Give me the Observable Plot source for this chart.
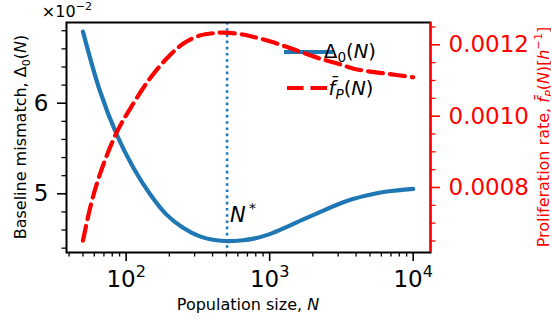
<!DOCTYPE html>
<html><head><meta charset="utf-8">
<script src="https://cdn.jsdelivr.net/npm/d3@7"></script>
<script src="https://cdn.jsdelivr.net/npm/@observablehq/plot@0.6"></script>
<style>
html,body{margin:0;padding:0;background:#fff;}
#chart{width:551px;height:322px;overflow:hidden;}
svg{font-family:"DejaVu Sans",sans-serif;}
</style></head><body><div id="chart"></div>
<script>
// Baseline mismatch Δ0(N), in units of 1e-2
const N_blue = [50, 65.5, 85.6, 112, 146, 191, 249, 326, 413, 505, 650, 774, 1000, 1321, 1700, 2256, 3000, 3846, 5000, 6570, 10000];
const delta0 = [6.79, 6.14, 5.66, 5.29, 5.00, 4.77, 4.625, 4.53, 4.49, 4.477, 4.487, 4.505, 4.555, 4.635, 4.715, 4.80, 4.885, 4.945, 4.99, 5.025, 5.055];
// Proliferation rate f̄P(N), h^-1
const N_red = [50, 57, 65.5, 85.6, 112, 146, 191, 249, 326, 413, 480, 650, 774, 1000, 1321, 1700, 2256, 3000, 3846, 5000, 6570, 10000];
const fP = [0.000651, 0.000754, 0.000836, 0.000953, 0.001035, 0.001105, 0.001161, 0.001203, 0.001226, 0.001233, 0.001234, 0.001229, 0.001222, 0.001210, 0.001194, 0.001178, 0.001161, 0.001147, 0.001133, 0.001125, 0.001119, 0.001109];
const Nstar = 505;
const annotations = [{N: Nstar, v: 4.76, label: "N*"}];

const xDomain = [38.4, 13200];
const yLeftDomain = [4.352, 6.891];
const yRightDomain = [0.0006177, 0.0012626];
const xMajor = [100, 1000, 10000];
const xMinor = [40,50,60,70,80,90,200,300,400,500,600,700,800,900,2000,3000,4000,5000,6000,7000,8000,9000];
const leftMajor = [5, 6];
const leftMinor = [4.4,4.6,4.8,5.2,5.4,5.6,5.8,6.2,6.4,6.6,6.8];
const rightMajor = [0.0008, 0.0010, 0.0012];
const rightMinor = [0.00065,0.0007,0.00075,0.00085,0.0009,0.00095,0.00105,0.0011,0.00115,0.00125];

const BLUE = "#1f77b4", RED = "#ff0000";
const toLeft = r => yLeftDomain[0] + (r - yRightDomain[0]) / (yRightDomain[1] - yRightDomain[0]) * (yLeftDomain[1] - yLeftDomain[0]);
const fromLeft = v => yRightDomain[0] + (v - yLeftDomain[0]) / (yLeftDomain[1] - yLeftDomain[0]) * (yRightDomain[1] - yRightDomain[0]);

const blueData = N_blue.map((n, i) => ({N: n, v: delta0[i]}));
const redData = N_red.map((n, i) => ({N: n, v: toLeft(fP[i])}));

const W = 551, H = 322, mL = 66, mR = 121, mT = 22, mB = 70;
const TICK = 23;
const RED_DASH = "15,7";

const plot = Plot.plot({
  width: W, height: H, marginLeft: mL, marginRight: mR, marginTop: mT, marginBottom: mB,
  style: {fontFamily: "DejaVu Sans", background: "white", color: "black"},
  x: {type: "log", domain: xDomain},
  y: {domain: yLeftDomain},
  marks: [
    Plot.ruleX([Nstar], {stroke: BLUE, strokeWidth: 2.6, strokeDasharray: "2.6,3.6"}),
    Plot.line(blueData, {x: "N", y: "v", stroke: BLUE, strokeWidth: 4.2, curve: "catmull-rom"}),
    Plot.text(annotations, {x: "N", y: "v", text: "label", textAnchor: "start", dx: 3, fontSize: 21, fill: "black"}),
    Plot.line(redData, {x: "N", y: "v", stroke: RED, strokeWidth: 4.2, strokeDasharray: RED_DASH, curve: "catmull-rom"}),
    Plot.frame({stroke: "black", strokeWidth: 2}),
    Plot.ruleX([xDomain[1]], {stroke: RED, strokeWidth: 2}),
    Plot.axisX({ticks: xMinor, tickSize: 4.5, tickFormat: () => "", label: null, strokeWidth: 1.3}),
    Plot.axisX({ticks: xMajor, tickSize: 9, tickPadding: 9, tickFormat: d => "10^" + Math.round(Math.log10(d)), fontSize: TICK, label: null, strokeWidth: 1.6, fill: "black"}),
    Plot.axisY({anchor: "left", ticks: leftMinor, tickSize: 4.5, tickFormat: () => "", label: null, strokeWidth: 1.3}),
    Plot.axisY({anchor: "left", ticks: leftMajor, tickSize: 9, tickPadding: 9, tickFormat: d => String(d), fontSize: TICK, label: null, strokeWidth: 1.6, fill: "black"}),
    Plot.axisY({anchor: "right", ticks: rightMinor.map(toLeft), tickSize: 4.5, tickFormat: () => "", label: null, stroke: RED, strokeWidth: 1.3}),
    Plot.axisY({anchor: "right", ticks: rightMajor.map(toLeft), tickSize: 9, tickPadding: 9, tickFormat: d => fromLeft(d).toFixed(4), fontSize: TICK, label: null, stroke: RED, fill: RED, strokeWidth: 1.6})
  ]
});
document.getElementById("chart").appendChild(plot);

const svg = d3.select(plot);
function rich(sel, segs, fs) {
  sel.text(null);
  let prev = 0;
  for (const s of segs) {
    const small = s.sup || s.sub;
    const shift = s.sup ? -0.42 * fs : s.sub ? 0.22 * fs : 0;
    const ts = sel.append("tspan").text(s.t)
      .attr("font-size", small ? fs * 0.7 : fs)
      .attr("dy", shift - prev);
    if (s.i) ts.attr("font-style", "italic");
    if (s.dx) ts.attr("dx", s.dx);
    prev = shift;
  }
}
// superscript tick labels and N* annotation
svg.selectAll("text").each(function() {
  const t = this.textContent;
  if (t.includes("^")) {
    const [b, e] = t.split("^");
    rich(d3.select(this), [{t: b}, {t: e, sup: true}], TICK);
  } else if (t === "N*") {
    rich(d3.select(this), [{t: "N", i: true}, {t: "*", sup: true, dx: 3}], 21);
  }
});

const cx = (mL + (W - mR)) / 2, cy = (mT + (H - mB)) / 2;
// axis labels
rich(svg.append("text").attr("x", cx).attr("y", 310).attr("text-anchor", "middle").attr("fill", "black"),
  [{t: "Population size, "}, {t: "N", i: true}], 16);
rich(svg.append("text").attr("transform", `translate(26,${cy}) rotate(-90)`).attr("text-anchor", "middle").attr("fill", "black"),
  [{t: "Baseline mismatch, Δ"}, {t: "0", sub: true}, {t: "("}, {t: "N", i: true}, {t: ")"}], 16);
rich(svg.append("text").attr("transform", `translate(549,${cy}) rotate(-90)`).attr("text-anchor", "middle").attr("fill", RED),
  [{t: "Proliferation rate, "}, {t: "f\u0304", i: true}, {t: "P", sub: true, i: true}, {t: "("}, {t: "N", i: true}, {t: ")["}, {t: "h", i: true}, {t: "\u22121", sup: true}, {t: "]"}], 16);
rich(svg.append("text").attr("x", mL + 1).attr("y", 17).attr("fill", "black"),
  [{t: "×10"}, {t: "\u22122", sup: true}], 16);

// legend (drawn beneath the red curve, as in the twin-axis original)
const redLine = svg.selectAll("g").filter(function() { return this.getAttribute("stroke-dasharray") === RED_DASH; }).node();
const lg = redLine ? d3.select(plot.insertBefore(document.createElementNS("http://www.w3.org/2000/svg", "g"), redLine)) : svg.append("g");
lg.append("line").attr("x1", 284).attr("x2", 333).attr("y1", 52).attr("y2", 52).attr("stroke", BLUE).attr("stroke-width", 4.2);
rich(lg.append("text").attr("x", 350).attr("y", 58).attr("fill", "black"),
  [{t: "Δ"}, {t: "0", sub: true}, {t: "("}, {t: "N", i: true}, {t: ")"}], 19.5);
lg.append("line").attr("x1", 287).attr("x2", 327).attr("y1", 88).attr("y2", 88).attr("stroke", RED).attr("stroke-width", 4.2).attr("stroke-dasharray", "16.5,7");
rich(lg.append("text").attr("x", 351).attr("y", 95).attr("fill", "black"),
  [{t: "f\u0304", i: true}, {t: "P", sub: true, i: true}, {t: "("}, {t: "N", i: true}, {t: ")"}], 19.5);
</script></body></html>
